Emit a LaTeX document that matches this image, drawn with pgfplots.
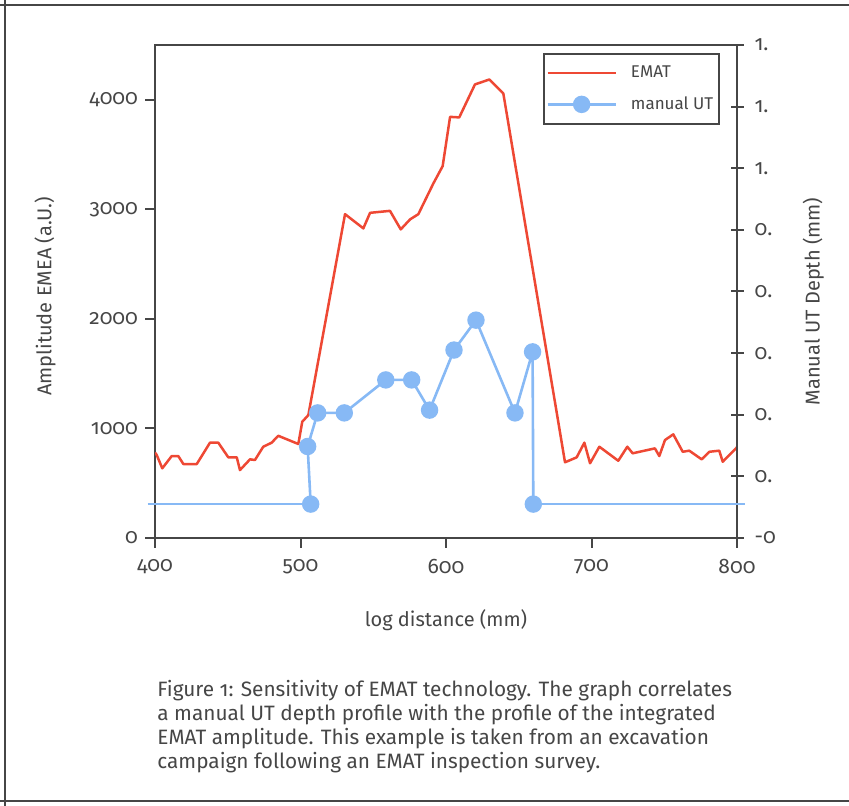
\documentclass[border=0pt]{standalone}
\usepackage{fontspec}
\setmainfont{Fira Sans}[Numbers=OldStyle]
\usepackage{pgfplots}
\pgfplotsset{compat=1.18}

\definecolor{emat}{RGB}{238,72,52}
\definecolor{ut}{RGB}{135,185,245}
\definecolor{axgray}{RGB}{70,70,70}
\definecolor{txtgray}{RGB}{70,70,70}

\pgfplotsset{
  base/.style={
    at={(77.5pt,134pt)}, anchor=south west,
    scale only axis, width=291pt, height=246.5pt,
    xmin=400, xmax=800,
    axis line style={axgray, line width=1pt},
    tick style={axgray, line width=1pt},
    tick label style={font=\fontsize{10.5}{12}\selectfont, text=txtgray},
    label style={font=\fontsize{10}{12}\selectfont, text=txtgray},
    /pgf/number format/assume math mode=true,
    /pgf/number format/1000 sep={},
  },
}

\begin{document}
\begin{tikzpicture}
\path[use as bounding box] (0,0) rectangle (424.5pt,403pt);
% frame round the figure
\draw[axgray, line width=1.4pt] (0,400.5pt) -- (424.5pt,400.5pt);
\draw[axgray, line width=1.4pt] (2.5pt,403pt) -- (2.5pt,0);
\draw[axgray, line width=1.4pt] (0,2.5pt) -- (424.5pt,2.5pt);

% EMAT amplitude, left axis
\begin{axis}[base,
    ymin=0, ymax=4500,
    xtick={400,500,600,700,800},
    ytick={0,1000,2000,3000,4000},
    xtick pos=bottom, ytick pos=left,
    tick align=outside, major tick length=5pt,
    xticklabel style={yshift=-2pt},
    xlabel={log distance (mm)},
    xlabel style={at={(axis description cs:0.5,-0.166)}, anchor=center},
    ylabel={Amplitude EMEA (a.U.)},
    ylabel style={at={(axis description cs:-0.189,0.49)}, anchor=center},
  ]
  \addplot[emat, line width=1.25pt, line join=round] coordinates {
    (400,780)(401.2,757)(405,636)(411.5,748)(416,748)(419.5,675)(428.7,675)
    (437.8,870)(443.5,870)(450.4,736)(456.2,736)(458.4,620)(465.3,718)
    (468.7,712)(474.4,833)(480.2,870)(484.7,933)(498.5,858)(501.2,1061)
    (505.4,1122)(530.6,2956)(543.2,2826)(547.8,2968)(561.5,2986)(568.9,2817)
    (575.3,2908)(581,2956)(591.3,3236)(597.7,3394)(602.8,3844)(609.1,3839)
    (619.9,4140)(629.8,4185)(639.4,4058)(681.8,691)(689.8,736)(695.1,870)
    (699,682)(705.4,833)(718.4,705)(724.6,833)(728.3,773)(743.6,818)
    (746.6,748)(750.5,894)(756.2,946)(762.7,787)(767.2,797)(775.7,718)
    (781,787)(787.8,797)(790.2,696)(799.3,818)(800,830)
  };
\end{axis}

% manual UT depth, right axis
\begin{axis}[base,
    ymin=-0.1, ymax=1.5,
    axis x line=none, axis y line*=right,
    ytick={-0.1,0.1,0.3,0.5,0.7,0.9,1.1,1.3,1.5},
    yticklabels={-0,0.,0.,0.,0.,0.,1.,1.,1.},
    tick align=center, major tick length=6.5pt,
    yticklabel style={xshift=2pt},
    ylabel={Manual UT Depth (mm)},
    ylabel style={at={(axis description cs:1.131,0.48)}, anchor=center, rotate=0},
    clip=false,
    legend cell align=left,
    legend style={at={(0.971,0.984)}, anchor=north east,
      draw=axgray, line width=0.9pt, font=\fontsize{8.5}{10}\selectfont,
      text=txtgray, inner xsep=1pt, inner ysep=4pt, row sep=4pt},
    legend image code/.code={
      \draw[mark repeat=2, mark phase=2, #1]
        plot coordinates {(0pt,0pt)(17pt,0pt)(34pt,0pt)};
      \path (39pt,0pt);},
  ]
  \addlegendimage{emat, line width=1.25pt}
  \addlegendentry{EMAT}
  \addplot[ut, line width=1.3pt, mark=*, mark size=3.7pt,
    mark options={fill=ut, draw=ut}] coordinates {
    (507,0.01)(504.9,0.197)(511.8,0.306)(530.1,0.306)(558.6,0.413)
    (576.4,0.413)(588.7,0.315)(605.5,0.510)(620.6,0.607)(647.4,0.306)
    (659.5,0.504)(660,0.01)
  };
  \addlegendentry{manual UT}
  \addplot[ut, line width=1.3pt, forget plot] coordinates {
    (395,0.01)(507,0.01)
  };
  \addplot[ut, line width=1.3pt, forget plot] coordinates {
    (660,0.01)(805.5,0.01)
  };
\end{axis}

% caption
\begin{scope}[every node/.style={anchor=base west, inner sep=0pt,
    text=txtgray, font=\fontsize{10.4}{12}\selectfont}]
  \node at (78.5pt,54.5pt) {Figure 1: Sensitivity of EMAT technology. The graph correlates};
  \node at (78.5pt,42.5pt) {a manual UT depth profile with the profile of the integrated};
  \node at (78.5pt,30.5pt) {EMAT amplitude. This example is taken from an excavation};
  \node at (78.5pt,18.5pt) {campaign following an EMAT inspection survey.};
\end{scope}
\end{tikzpicture}
\end{document}
